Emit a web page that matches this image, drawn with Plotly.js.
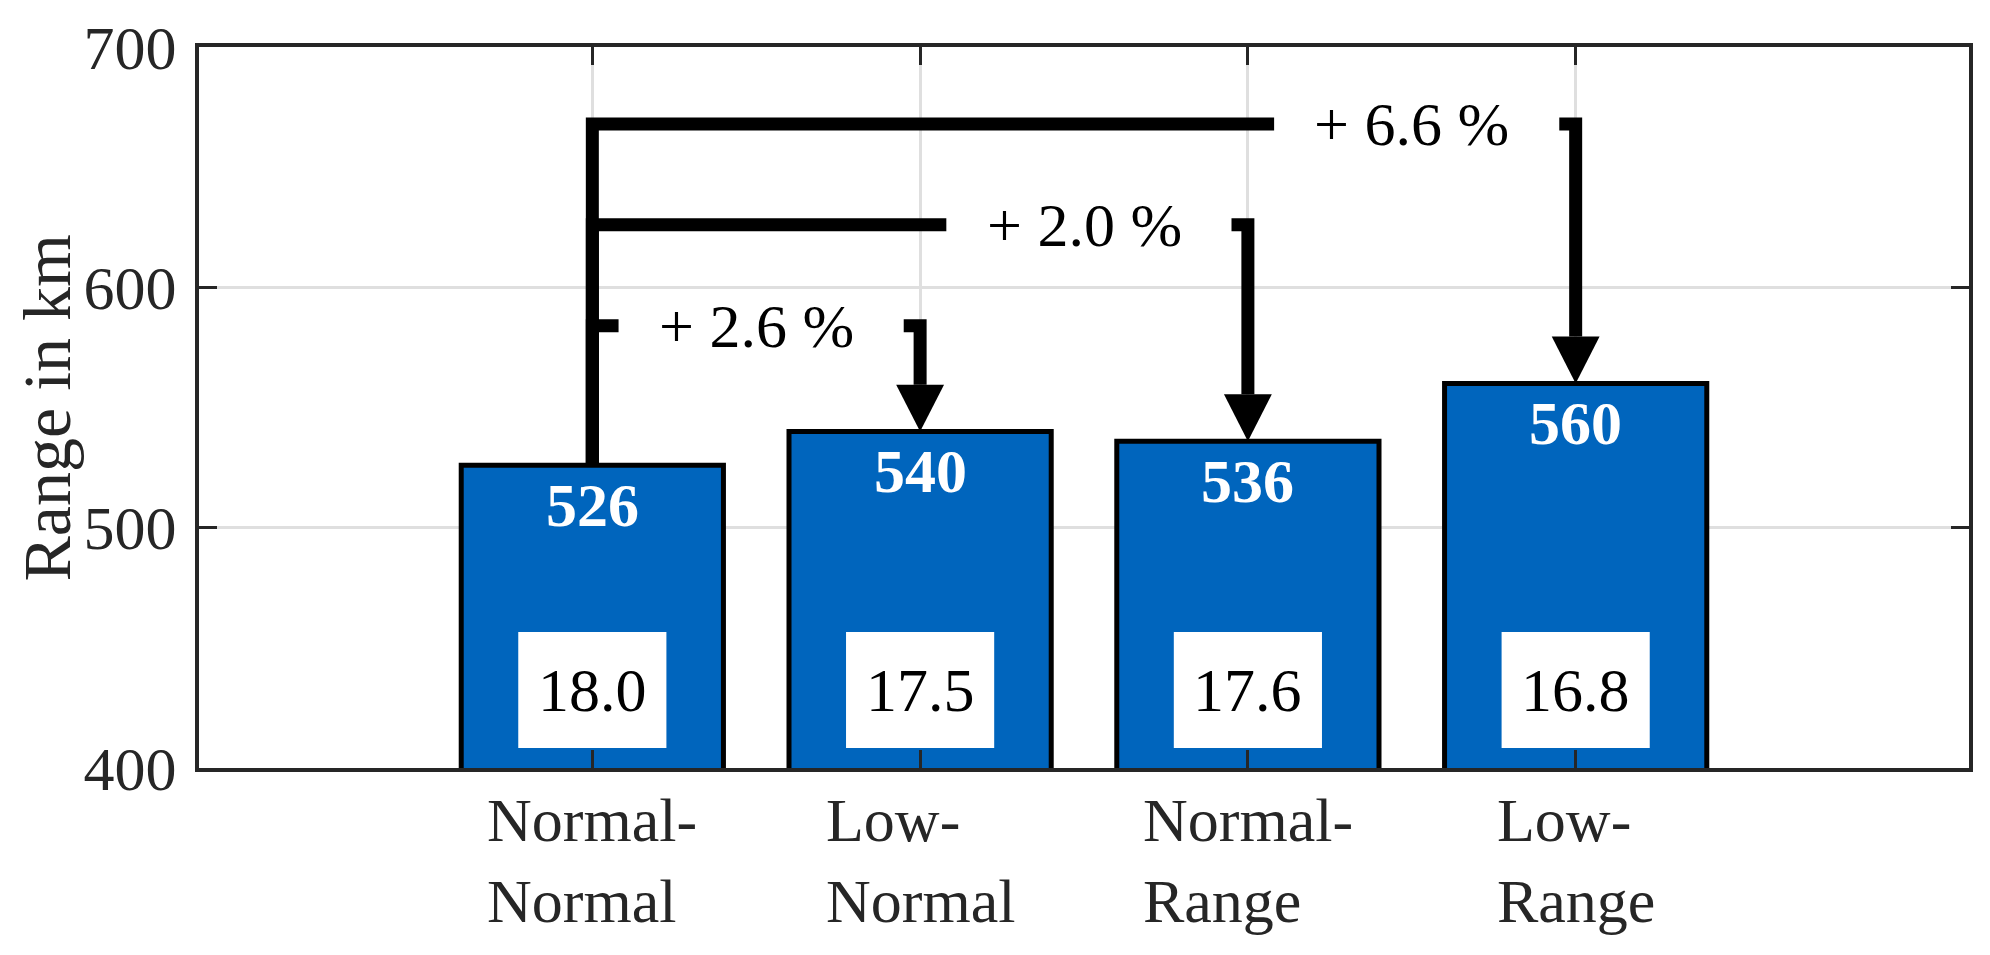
<!DOCTYPE html>
<html>
<head>
<meta charset="utf-8">
<script src="https://cdn.plot.ly/plotly-3.0.1.min.js"></script>
<style>
  html, body { margin: 0; padding: 0; background: #ffffff; }
  #chart { width: 1990px; height: 955px; }
</style>
</head>
<body>
<div id="chart"></div>
<script>
// ---- data ----
const categories = ['Normal-<br>Normal', 'Low-<br>Normal', 'Normal-<br>Range', 'Low-<br>Range'];
const xPositions = [1, 2, 3, 4];
const rangeKm = [526, 540, 536, 560];
const consumption = [18.0, 17.5, 17.6, 16.8];
const comparisonTargets = [1, 2, 3];
const percentLabels = ['+ 2.6 %', '+ 2.0 %', '+ 6.6 %'];
const yTitle = 'Range in km';

// ---- layout constants (positions / sizes, in axis units) ----
const bracketLevels = [584, 626, 668];
const barWidth = 0.8;
const valueLabelOffset = 16.5;
const boxHalfWidth = 0.226;
const boxBottom = 408.3, boxTop = 456.6;
const headLen = 19.5, headHalf = 0.073;
const labelShift = 0.5, gapHalf = 0.42, stubLen = 0.05;

const FONT = 'Liberation Serif, Times New Roman, serif';
const AXIS_COLOR = '#262626';
const BAR_COLOR = '#0065bd';

const traces = [{
  type: 'bar',
  x: xPositions,
  y: rangeKm,
  width: barWidth,
  marker: { color: BAR_COLOR, line: { color: '#000000', width: 5 } },
  hoverinfo: 'skip',
  showlegend: false
}];

const shapes = [];
const annotations = [];

// y-axis title
annotations.push({
  x: -0.0864, y: 0.5, xref: 'paper', yref: 'paper',
  text: yTitle, showarrow: false, textangle: -90,
  xanchor: 'center', yanchor: 'middle',
  font: { family: FONT, size: 68, color: AXIS_COLOR }
});

// white boxes with consumption + bar value labels + category labels
xPositions.forEach((x, i) => {
  shapes.push({
    type: 'rect', xref: 'x', yref: 'y',
    x0: x - boxHalfWidth, x1: x + boxHalfWidth, y0: boxBottom, y1: boxTop,
    fillcolor: '#ffffff', line: { width: 0 }
  });
  annotations.push({
    x: x, y: (boxBottom + boxTop) / 2, xref: 'x', yref: 'y',
    text: consumption[i].toFixed(1), showarrow: false,
    xanchor: 'center', yanchor: 'middle',
    font: { family: FONT, size: 62, color: '#000000' }
  });
  annotations.push({
    x: x, y: rangeKm[i] - valueLabelOffset, xref: 'x', yref: 'y',
    text: '<b>' + rangeKm[i] + '</b>', showarrow: false,
    xanchor: 'center', yanchor: 'middle',
    font: { family: FONT, size: 62, color: '#ffffff' }
  });
  annotations.push({
    x: x, y: -0.022, xref: 'x', yref: 'paper',
    text: categories[i], showarrow: false,
    xanchor: 'center', yanchor: 'top', align: 'left',
    font: { family: FONT, size: 62, color: AXIS_COLOR }
  });
});

// brackets with percentage labels and arrows
const x0 = xPositions[0];
const y0 = rangeKm[0];
comparisonTargets.forEach((t, k) => {
  const xt = xPositions[t];
  const yt = rangeKm[t];
  const lvl = bracketLevels[k];
  const mid = xt - labelShift;
  shapes.push({
    type: 'path', xref: 'x', yref: 'y',
    path: `M ${x0},${y0} L ${x0},${lvl} L ${mid - gapHalf},${lvl}`,
    line: { color: '#000000', width: 13 }
  });
  shapes.push({
    type: 'path', xref: 'x', yref: 'y',
    path: `M ${xt - stubLen},${lvl} L ${xt},${lvl} L ${xt},${yt + headLen}`,
    line: { color: '#000000', width: 13 }
  });
  shapes.push({
    type: 'path', xref: 'x', yref: 'y',
    path: `M ${xt - headHalf},${yt + headLen} L ${xt + headHalf},${yt + headLen} L ${xt},${yt} Z`,
    fillcolor: '#000000', line: { width: 0 }
  });
  annotations.push({
    x: mid, y: lvl, xref: 'x', yref: 'y',
    text: percentLabels[k], showarrow: false,
    xanchor: 'center', yanchor: 'middle',
    font: { family: FONT, size: 62, color: '#000000' }
  });
});

const layout = {
  width: 1990, height: 955,
  margin: { l: 199, r: 21, t: 47, b: 187, pad: 0 },
  paper_bgcolor: '#ffffff', plot_bgcolor: '#ffffff',
  showlegend: false,
  xaxis: {
    range: [-0.2, 5.2],
    tickvals: xPositions,
    showticklabels: false,
    ticks: 'inside', ticklen: 18, tickwidth: 3, tickcolor: AXIS_COLOR,
    showgrid: true, gridcolor: '#dfdfdf', gridwidth: 3,
    showline: true, linecolor: AXIS_COLOR, linewidth: 4, mirror: 'ticks',
    zeroline: false, fixedrange: true
  },
  yaxis: {
    range: [400, 700],
    tickvals: [400, 500, 600, 700],
    ticks: 'inside', ticklen: 18, tickwidth: 3, tickcolor: AXIS_COLOR,
    ticklabelstandoff: 6,
    tickfont: { family: FONT, size: 62, color: AXIS_COLOR },
    showgrid: true, gridcolor: '#dfdfdf', gridwidth: 3,
    showline: true, linecolor: AXIS_COLOR, linewidth: 4, mirror: 'ticks',
    zeroline: false, fixedrange: true
  },
  shapes: shapes,
  annotations: annotations
};

Plotly.newPlot('chart', traces, layout, { displayModeBar: false, staticPlot: true });
</script>
</body>
</html>
